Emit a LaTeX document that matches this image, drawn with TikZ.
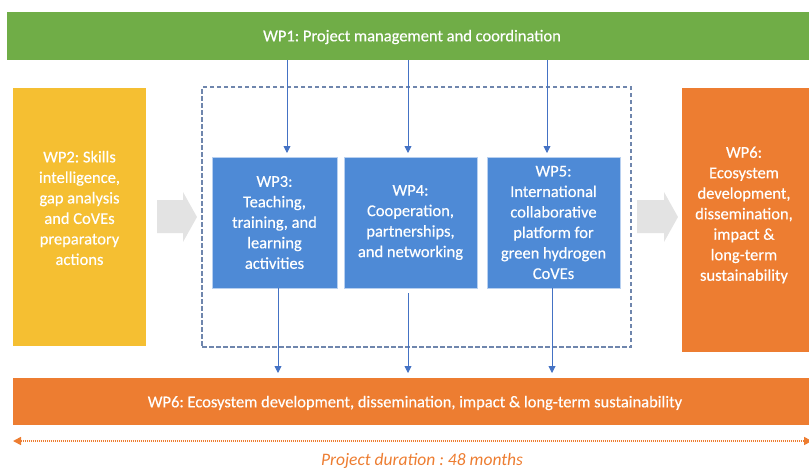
\documentclass[tikz,border=0pt]{standalone}
\usepackage{fontspec}
\setmainfont{Carlito}[FakeBold=0.35]
\newfontfamily\durfont{Carlito}
\usetikzlibrary{arrows.meta}
\frenchspacing
\definecolor{wpgreen}{HTML}{70AD47}
\definecolor{wpyellow}{HTML}{F5BF32}
\definecolor{wporange}{HTML}{ED7D31}
\definecolor{wpblue}{HTML}{4E8AD6}
\definecolor{wpedge}{HTML}{B8D0F0}
\definecolor{arrblue}{HTML}{4472C4}
\definecolor{dashcol}{HTML}{6F86AD}
\definecolor{graycol}{HTML}{E3E3E3}
\tikzset{
  wpbox/.style={inner sep=0pt, outer sep=0pt, text=white, align=center, font=\fontsize{16.5}{20.5}\selectfont},
  bluebox/.style={wpbox, fill=wpblue, draw=wpedge, line width=0.6pt},
  bartext/.style={text=white, font=\fontsize{16.5}{19}\selectfont},
  arr/.style={draw=arrblue, line width=0.9pt, -{Triangle[width=7pt,length=7pt]}},
  grayarrow/.style={fill=graycol},
}
\begin{document}
\begin{tikzpicture}[x=1pt,y=-1pt]
\useasboundingbox (0,0) rectangle (809,469);
% WP1 bar
\node[wpbox, fill=wpgreen, minimum width=810pt, minimum height=48pt] (wp1) at (412,36) {};
\node[bartext] (wp1t) at (412,37) {WP1: Project management and coordination};
% WP2
\node[wpbox, fill=wpyellow, minimum width=133pt, minimum height=258pt] (wp2) at (79.5,217) {};
\node[wpbox] (wp2t) at (79.5,208) {WP2: Skills\\intelligence,\\gap analysis\\and CoVEs\\preparatory\\actions};
% gray arrows
\fill[grayarrow] (157,200) -- (183,200) -- (183,192) -- (197,217) -- (183,242) -- (183,233) -- (157,233) -- cycle;
\fill[grayarrow] (637,200) -- (664,200) -- (664,192) -- (678,217) -- (664,242) -- (664,233) -- (637,233) -- cycle;
% dashed group
\node[draw=dashcol, line width=1.1pt, dash pattern=on 4.5pt off 2.5pt, minimum width=429pt, minimum height=260pt, inner sep=0pt] (grp) at (416.5,217) {};
% WP3-5
\node[bluebox, minimum width=125pt, minimum height=131pt] (wp3) at (274.5,222.5) {WP3:\\Teaching,\\training, and\\learning\\activities};
\node[bluebox, minimum width=133pt, minimum height=131pt] (wp4) at (410.5,222.5) {WP4:\\Cooperation,\\partnerships,\\and networking};
\node[bluebox, minimum width=133pt, minimum height=131pt] (wp5) at (553.5,222.5) {WP5:\\International\\collaborative\\platform for\\green hydrogen\\CoVEs};
% right WP6
\node[wpbox, fill=wporange, minimum width=130pt, minimum height=264pt] (wp6r) at (747,220) {};
\node[wpbox] (wp6rt) at (744,215) {WP6:\\Ecosystem\\development,\\dissemination,\\impact \&\\long-term\\sustainability};
% bottom WP6 bar
\node[wpbox, fill=wporange, minimum width=804pt, minimum height=47pt] (wp6) at (415,401.5) {};
\node[bartext] (wp6t) at (415,403) {WP6: Ecosystem development, dissemination, impact \& long-term sustainability};
% arrows from WP1
\coordinate (a3) at ([xshift=12.5pt]wp3.north);
\coordinate (a4) at ([xshift=-2.5pt]wp4.north);
\coordinate (a5) at ([xshift=-6.5pt]wp5.north);
\draw[arr, shorten >=4pt] (a3 |- wp1.south) -- (a3);
\draw[arr, shorten >=4pt] (a4 |- wp1.south) -- (a4);
\draw[arr, shorten >=4pt] (a5 |- wp1.south) -- (a5);
% arrows to WP6
\coordinate (b3) at ([xshift=3.5pt]wp3.south);
\coordinate (b4) at ([xshift=-2.5pt,yshift=-5pt]wp4.south);
\coordinate (b5) at ([xshift=-1.5pt]wp5.south);
\draw[arr, shorten >=5pt] (b3) -- (b3 |- wp6.north);
\draw[arr, shorten >=5pt] (b4) -- (b4 |- wp6.north);
\draw[arr, shorten >=5pt] (b5) -- (b5 |- wp6.north);
% duration
\coordinate (dl) at (13,441);
\coordinate (dr) at (812,441);
\draw[draw=wporange, line width=1.6pt, dash pattern=on 1pt off 1pt, {Triangle[width=8pt,length=8pt]}-{Triangle[width=8pt,length=8pt]}] (dl) -- (dr);
\node[text=wporange, font=\durfont\fontsize{17.5}{20}\selectfont\itshape] (dur) at (422,461) {Project duration : 48 months};
\end{tikzpicture}
\end{document}
